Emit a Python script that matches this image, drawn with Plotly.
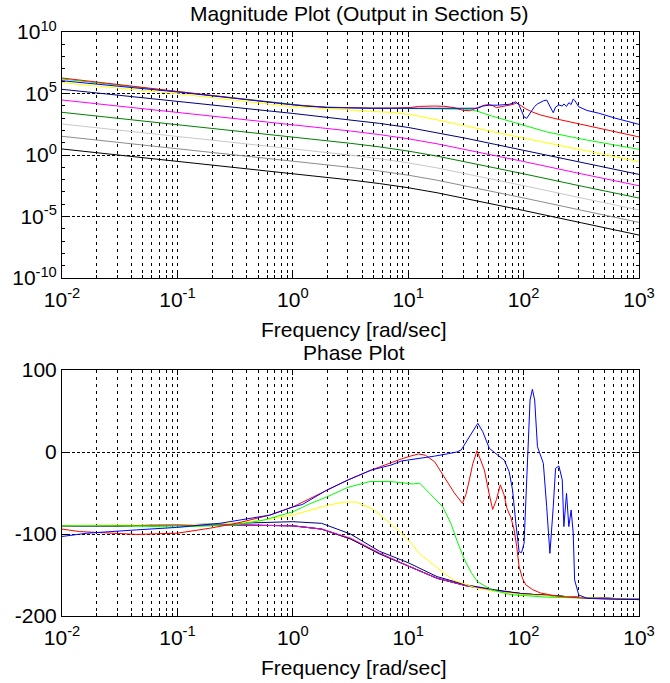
import plotly.graph_objects as go

# ---------------- data ----------------
# frequencies are stored as log10(rad/sec); magnitudes as log10(|G|); phase in degrees
logw_smooth = [-2, -1.5, -1, -0.5, 0, 0.25, 0.5, 0.75, 1, 1.25, 1.5, 1.75, 2, 2.5, 3]

mag_black = [0.49, -0.01, -0.47, -1.01, -1.51, -1.77, -2.03, -2.32, -2.66, -3.07, -3.53, -4.02, -4.51, -5.51, -6.51]
mag_gray = [1.52, 1.01, 0.55, 0.01, -0.49, -0.75, -1.01, -1.30, -1.64, -2.05, -2.51, -3.00, -3.49, -4.49, -5.48]
mag_lgray = [2.52, 2.01, 1.55, 1.01, 0.51, 0.25, -0.01, -0.30, -0.64, -1.05, -1.51, -2.00, -2.49, -3.49, -4.47]
mag_dkgreen = [3.47, 2.97, 2.50, 1.97, 1.47, 1.21, 0.95, 0.66, 0.32, -0.09, -0.55, -1.04, -1.53, -2.53, -3.50]
mag_magenta = [4.47, 3.97, 3.50, 2.97, 2.47, 2.21, 1.95, 1.66, 1.32, 0.91, 0.45, -0.04, -0.53, -1.53, -2.50]
mag_navy = [5.34, 4.87, 4.40, 3.87, 3.38, 3.12, 2.86, 2.57, 2.24, 1.82, 1.36, 0.87, 0.38, -0.62, -1.58]

ph_black = [-90, -90, -89, -89, -90, -94, -106, -124, -139, -154, -163, -169, -173, -177.5, -179.5]
ph_gray = [-90, -90, -89, -89, -90, -94, -106, -124, -139, -154, -163, -169, -173, -177.5, -179.5]
ph_lgray = [-90, -90, -89, -89, -90, -94, -106, -124, -139, -154, -163, -169, -173, -177.5, -179.5]
ph_dkgreen = [-90, -90, -89, -89, -90, -94, -106, -124, -139, -154, -163, -169, -173, -177.5, -179.5]
ph_magenta = [-90, -90, -89, -89, -90, -94, -105, -123, -139, -154, -163, -169, -173, -177.5, -179.5]
ph_navy = [-90, -90, -89, -87, -85, -87, -100, -121, -135, -152, -162, -168, -173, -177.5, -179.5]

logw_yellow = [-2, -1.5, -1, -0.5, -0.25, 0, 0.15, 0.3, 0.45, 0.55, 0.7, 0.8, 0.9, 0.96,
               1.03, 1.1, 1.24, 1.39, 1.59, 1.8, 2.0, 2.5, 3]
mag_yellow = [5.88, 5.44, 4.98, 4.45, 4.19, 3.93, 3.85, 3.77, 3.70, 3.66, 3.58, 3.51, 3.43, 3.37,
              3.27, 3.15, 2.88, 2.57, 2.17, 1.76, 1.38, 0.41, -0.54]
ph_yellow = [-90, -89, -89, -87, -83, -77, -71, -65, -61, -61, -70, -82, -95, -101,
             -112, -124, -140, -156, -166, -171, -174, -177.5, -179.5]

logw_green = [-2, -1.5, -1, -0.5, -0.25, 0, 0.15, 0.3, 0.48, 0.67, 0.85, 1.04, 1.1, 1.15, 1.23,
              1.3, 1.37, 1.43, 1.49, 1.55, 1.6, 1.72, 1.89, 2.2, 2.5, 3]
mag_green = [6.18, 5.66, 5.14, 4.61, 4.34, 4.07, 3.97, 3.89, 3.84, 3.81, 3.80, 3.79, 3.79, 3.78, 3.77,
             3.76, 3.75, 3.74, 3.72, 3.66, 3.56, 3.18, 2.72, 1.88, 1.30, 0.46]
ph_green = [-90, -90, -91.5, -89, -83, -73, -63, -54.5, -43, -36, -36, -39, -38, -45, -56,
            -67, -87, -111, -132, -148, -158, -168, -174, -177, -178, -180]

logw_red = [-2, -1.85, -1.64, -1.35, -1.0, -0.72, -0.49, -0.2, 0.0, 0.3, 0.48, 0.68, 0.85, 0.94,
            1.02, 1.09, 1.15, 1.23, 1.31, 1.40, 1.47, 1.50, 1.53, 1.56, 1.597, 1.63, 1.66, 1.70,
            1.732, 1.765, 1.798, 1.83, 1.856, 1.89, 1.918, 1.94, 1.961, 1.99, 2.019, 2.08, 2.148,
            2.3, 2.5, 2.7, 3.0]
mag_red = [6.26, 6.10, 5.87, 5.55, 5.16, 4.86, 4.61, 4.30, 4.08, 3.88, 3.83, 3.81, 3.81, 3.82,
           3.86, 3.95, 3.98, 3.98, 3.96, 3.85, 3.64, 3.60, 3.60, 3.70, 3.85, 3.98, 4.05, 4.10,
           4.02, 3.85, 3.90, 3.98, 4.02, 4.08, 4.15, 4.22, 4.12, 3.92, 3.75, 3.48, 3.25,
           2.90, 2.48, 2.12, 1.47]
ph_red = [-94, -97, -98.5, -100.5, -99, -93, -87, -77, -67, -46, -34, -22, -13, -8.5,
          -5, -2.4, -4, -12, -30, -50, -62.6, -52, -34, -14, 1.6, -10, -22, -50,
          -70, -58, -40, -52, -68.7, -80, -95, -115, -139.8, -154, -162, -168, -172,
          -176, -178, -179, -180]

logw_blue = [-2, -1.78, -1.355, -1.01, -0.634, -0.5, -0.2, 0.0, 0.083, 0.3, 0.48, 0.68, 0.85, 0.94,
             1.1, 1.23, 1.35, 1.42, 1.459, 1.53, 1.603, 1.646, 1.703, 1.775, 1.832, 1.875, 1.904,
             1.933, 1.961, 1.982, 2.004, 2.027, 2.056, 2.076, 2.096, 2.12, 2.171, 2.2, 2.228,
             2.257, 2.277, 2.306, 2.335, 2.349, 2.372, 2.392, 2.412, 2.43, 2.442, 2.478, 2.55,
             2.65, 2.8, 3.0]
mag_blue = [6.04, 5.84, 5.46, 5.13, 4.74, 4.60, 4.28, 4.07, 4.00, 3.86, 3.82, 3.80, 3.80, 3.80,
            3.80, 3.80, 3.80, 3.80, 3.79, 3.78, 3.80, 3.98, 4.05, 4.05, 4.08, 4.12, 4.20,
            4.33, 4.05, 3.60, 3.10, 2.98, 3.40, 3.70, 3.95, 4.15, 4.40, 4.47, 4.00,
            3.44, 3.90, 4.07, 3.98, 4.15, 3.95, 4.25, 4.10, 4.55, 4.45, 3.92, 3.62,
            3.40, 2.98, 2.49]
ph_blue = [-103, -99, -95, -92, -87, -84, -77, -67, -64, -46, -34, -22, -16, -11,
           -8, -5, -2, 0, 2.4, 18.7, 35, 24.8, 4.5, -3.7, -9.8, -24, -46,
           -87, -121.6, -122.8, -111.4, -34, 63.4, 76.4, 63.4, 6.5, -13.8, -66.7, -123.6,
           -66.7, -19.9, -17.1, -34, -91, -50.4, -91, -70.7, -99, -156, -174.4, -178.4,
           -179, -179.5, -180]

xtick_exp = [-2, -1, 0, 1, 2, 3]
ytick_exp_mag = [-10, -5, 0, 5, 10]
ytick_phase = [-200, -100, 0, 100]

titles = ["Magnitude Plot (Output in Section 5)", "Phase Plot"]
xlabel = "Frequency [rad/sec]"

# ---------------- figure ----------------
FONT = "Liberation Sans, Arial, Helvetica, sans-serif"

series = [
    # name, logw, mag, phase, colour
    ("dkgreen", logw_smooth, mag_dkgreen, ph_dkgreen, "#008000"),
    ("lgray", logw_smooth, mag_lgray, ph_lgray, "#c8c8c8"),
    ("gray", logw_smooth, mag_gray, ph_gray, "#8c8c8c"),
    ("black", logw_smooth, mag_black, ph_black, "#000000"),
    ("magenta", logw_smooth, mag_magenta, ph_magenta, "#ff00ff"),
    ("navy", logw_smooth, mag_navy, ph_navy, "#000080"),
    ("yellow", logw_yellow, mag_yellow, ph_yellow, "#ffff00"),
    ("green", logw_green, mag_green, ph_green, "#00ff00"),
    ("red", logw_red, mag_red, ph_red, "#ff0000"),
    ("blue", logw_blue, mag_blue, ph_blue, "#0000ff"),
]

fig = go.Figure()
for name, lw, mg, ph, col in series:
    w = [10 ** v for v in lw]
    fig.add_trace(go.Scatter(x=w, y=[10 ** v for v in mg], mode="lines", name=name,
                             line=dict(color=col, width=1), xaxis="x", yaxis="y",
                             showlegend=False, hoverinfo="skip"))
    fig.add_trace(go.Scatter(x=w, y=ph, mode="lines", name=name,
                             line=dict(color=col, width=1), xaxis="x2", yaxis="y2",
                             showlegend=False, hoverinfo="skip"))

W, H = 670, 683
ML, MR, MT, MB = 58, 31, 32, 67
PH = H - MT - MB
PW = W - ML - MR


def py(ypx):
    return (H - MB - ypx) / PH


def px(xpx):
    return (xpx - ML) / PW


tickfont = dict(family=FONT, size=21, color="black")
xminor = [k * 10.0 ** e for e in range(-2, 3) for k in range(2, 10)]


def xaxis_cfg(anchor):
    return dict(type="log", range=[-2, 3], anchor=anchor, domain=[0, 1],
                tickmode="array", tickvals=[10.0 ** e for e in xtick_exp],
                ticktext=["10<sup>%d</sup>" % e for e in xtick_exp],
                ticks="inside", ticklen=5, tickcolor="black", tickwidth=1,
                showline=True, linecolor="black", linewidth=1, mirror="allticks",
                showgrid=True, gridcolor="black", gridwidth=1, griddash="3px,4px",
                zeroline=False, tickfont=tickfont, ticklabelstandoff=3,
                minor=dict(tickmode="array", tickvals=xminor, ticks="inside", ticklen=3,
                           tickcolor="black", showgrid=True, gridcolor="black",
                           gridwidth=1, griddash="3px,4px"))


fig.update_layout(
    width=W, height=H,
    margin=dict(l=ML, r=MR, t=MT, b=MB, pad=0),
    paper_bgcolor="white", plot_bgcolor="white",
    font=dict(family=FONT, color="black"),
    showlegend=False,
    xaxis=xaxis_cfg("y"),
    xaxis2=xaxis_cfg("y2"),
    yaxis=dict(type="log", range=[-10, 10], anchor="x", domain=[py(278), 1],
               tickmode="array", tickvals=[10.0 ** e for e in ytick_exp_mag],
               ticktext=["10<sup>%d</sup>" % e for e in ytick_exp_mag],
               ticks="inside", ticklen=5, tickcolor="black",
               showline=True, linecolor="black", linewidth=1, mirror="allticks",
               showgrid=True, gridcolor="black", gridwidth=1, griddash="3px,2px",
               zeroline=False, tickfont=tickfont,
               minor=dict(tickmode="array",
                          tickvals=[10.0 ** e for e in range(-9, 10) if e % 5 != 0],
                          ticks="inside", ticklen=3, tickcolor="black", showgrid=False)),
    yaxis2=dict(range=[-200, 100], anchor="x2", domain=[0, py(370)],
                tickmode="array", tickvals=ytick_phase,
                ticktext=[str(v) for v in ytick_phase],
                ticks="inside", ticklen=5, tickcolor="black",
                showline=True, linecolor="black", linewidth=1, mirror="allticks",
                showgrid=True, gridcolor="black", gridwidth=1, griddash="3px,2px",
                zeroline=False, tickfont=tickfont),
)

ann_font = dict(family=FONT, size=21, color="black")
fig.add_annotation(text=titles[0], x=px(358), y=py(14), xref="paper", yref="paper",
                   xanchor="center", yanchor="middle", showarrow=False, font=ann_font)
fig.add_annotation(text=xlabel, x=px(352.5), y=py(329), xref="paper", yref="paper",
                   xanchor="center", yanchor="middle", showarrow=False, font=ann_font)
fig.add_annotation(text=titles[1], x=px(352.5), y=py(352), xref="paper", yref="paper",
                   xanchor="center", yanchor="middle", showarrow=False, font=ann_font)
fig.add_annotation(text=xlabel, x=px(352.5), y=py(667), xref="paper", yref="paper",
                   xanchor="center", yanchor="middle", showarrow=False, font=ann_font)

fig.write_html("out.html")
